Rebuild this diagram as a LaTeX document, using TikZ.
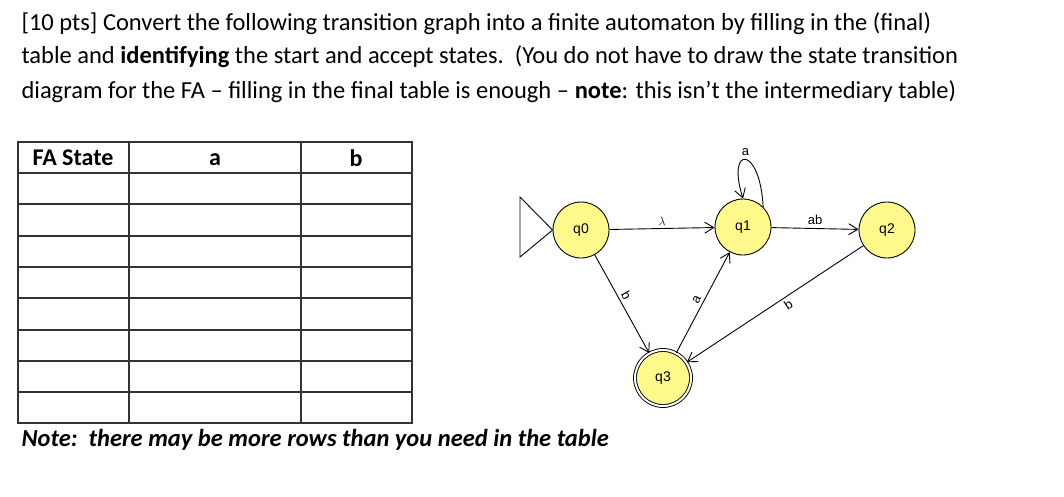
\documentclass[tikz,border=0pt]{standalone}
\usepackage{fontspec}
\setmainfont{Carlito}
\newfontfamily\labelfont{Liberation Sans}
\usetikzlibrary{arrows.meta}
\tikzset{
  state/.style={circle,draw,line width=0.9pt,fill=yellow!45,minimum size=56pt,inner sep=0pt,font=\labelfont\fontsize{14}{16}\selectfont},
  accept/.style={state,double,double distance=2pt},
  trans/.style={draw,-{Straight Barb[length=9pt,width=11pt]},line width=0.9pt},
  lbl/.style={font=\labelfont\fontsize{13}{15}\selectfont,inner sep=3pt},
  head/.style={font=\bfseries\fontsize{24}{28}\selectfont},
  line/.style={font=\fontsize{24.5}{29}\selectfont}
}
\begin{document}
\begin{tikzpicture}[x=1pt,y=-1pt]
\useasboundingbox (0,0) rectangle (1064,496);
% question text
\node[anchor=base west,line] (l1) at (18,30) {[10 pts] Convert the following transition graph into a finite automaton by filling in the (final)};
\node[anchor=base west,line] (l2) at (18,63) {table and \textbf{identifying} the start and accept states.\ \ (You do not have to draw the state transition};
\node[anchor=base west,line] (l3) at (18,98) {diagram for the FA -- filling in the final table is enough -- \textbf{note}: this isn't the intermediary table)};
% table
\draw[line width=1.2pt,gray!40!black] (18,142) rectangle (412,423);
\foreach \y in {173,204,236,267,298,330,361,392}
  \draw[line width=1.2pt,gray!40!black] (18,\y) -- (412,\y);
\foreach \x in {129,301}
  \draw[line width=1.2pt,gray!40!black] (\x,142) -- (\x,423);
\node[head] (hs) at (73,158) {FA State};
\node[head] (ha) at (215,160) {a};
\node[head] (hb) at (356,158) {b};
\node[anchor=base west,font=\bfseries\itshape\fontsize{24.5}{29}\selectfont] (note) at (18,446) {Note:\ \ there may be more rows than you need in the table};
% automaton
\node[state] (q0) at (581,230) {q0};
\node[state] (q1) at (743,227) {q1};
\node[state] (q2) at (887,230) {q2};
\node[accept] (q3) at (663,378) {q3};
\draw[line width=0.9pt] (q0.west) -- (520,197) -- (520,257) -- cycle;
\path[trans] (q0) -- node[lbl,above] {$\lambda$} (q1);
\path[trans] (q1) -- node[lbl,above] {ab} (q2);
\path[trans] (q1.north east) .. controls (760,145) and (726,145) .. node[lbl,above] {a} (q1.north);
\path[trans] (q0) -- node[lbl,sloped,above,pos=0.45] {b} (q3);
\path[trans] (q3) -- node[lbl,sloped,above,pos=0.5] {a} (q1);
\path[trans] (q2) -- node[lbl,sloped,below,pos=0.45] {b} (q3);
\end{tikzpicture}
\end{document}
